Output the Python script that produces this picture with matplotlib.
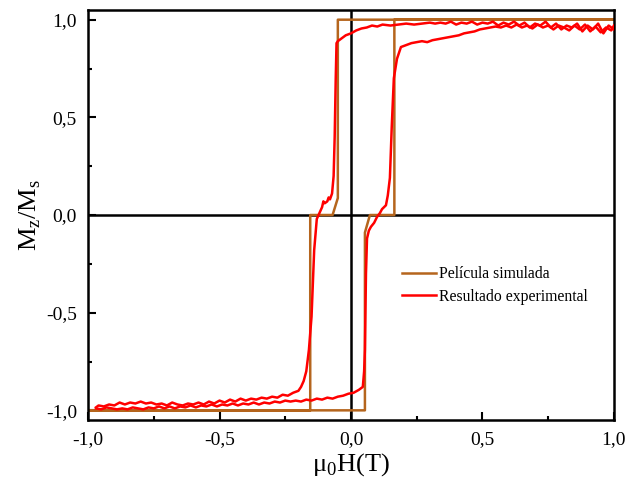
import numpy as np
import matplotlib.pyplot as plt
from matplotlib.ticker import MultipleLocator

plt.rcParams['font.family'] = ['Liberation Serif', 'DejaVu Serif']
plt.rcParams['mathtext.fontset'] = 'custom'
plt.rcParams['mathtext.rm'] = 'Liberation Serif'

# simulated film (square loop with small steps)
sim_x = [1.0, -0.05, -0.05, -0.07, -0.155, -0.155, -1.0,
         -1.0, 0.053, 0.053, 0.072, 0.165, 0.165, 1.0]
sim_y = [1.0, 1.0, 0.087, 0.0, 0.0, -1.0, -1.0,
         -1.0, -1.0, -0.09, 0.0, 0.0, 1.0, 1.0]

# experimental, descending branch (+H -> -H)
exp_dn_x = [1.00, 0.98, 0.96, 0.94, 0.92, 0.90, 0.88, 0.86, 0.84, 0.82, 0.80,
            0.78, 0.76, 0.74, 0.72, 0.70, 0.68, 0.66, 0.64, 0.62, 0.60, 0.58,
            0.56, 0.54, 0.52, 0.50, 0.48, 0.46, 0.44, 0.42, 0.40, 0.38, 0.36,
            0.34, 0.32, 0.30,
            0.27, 0.24, 0.21, 0.18, 0.15, 0.12, 0.10, 0.08, 0.06, 0.04, 0.02,
            0.00, -0.02, -0.04, -0.05, -0.055,
            -0.058, -0.062, -0.066, -0.072, -0.08, -0.085, -0.09, -0.10, -0.105,
            -0.11, -0.12, -0.13, -0.14, -0.15, -0.16, -0.17, -0.18, -0.19, -0.20,
            -0.22, -0.24, -0.26, -0.28, -0.30, -0.32, -0.34, -0.36, -0.38, -0.40,
            -0.42, -0.44, -0.46, -0.48, -0.50, -0.52, -0.54, -0.56, -0.58, -0.60,
            -0.62, -0.64, -0.66, -0.68, -0.70, -0.72, -0.74, -0.76, -0.78, -0.80,
            -0.82, -0.84, -0.86, -0.88, -0.90, -0.92, -0.94, -0.96, -0.97]
exp_dn_y = [0.95, 0.97, 0.93, 0.98, 0.95, 0.97, 0.94, 0.98, 0.96, 0.97, 0.95,
            0.98, 0.96, 0.99, 0.97, 0.98, 0.96, 0.985, 0.97, 0.99, 0.975, 0.985,
            0.97, 0.99, 0.98, 0.985, 0.975, 0.99, 0.98, 0.985, 0.975, 0.99, 0.98,
            0.985, 0.98, 0.985,
            0.98, 0.975, 0.98, 0.975, 0.97, 0.975, 0.965, 0.97, 0.96, 0.955, 0.945,
            0.93, 0.92, 0.90, 0.89, 0.88,
            0.70, 0.40, 0.20, 0.11, 0.08, 0.09, 0.07, 0.06, 0.07,
            0.04, 0.01, -0.02, -0.18, -0.52, -0.69, -0.80, -0.85, -0.88, -0.90,
            -0.91, -0.925, -0.92, -0.935, -0.93, -0.94, -0.935, -0.945, -0.94, -0.95,
            -0.94, -0.955, -0.945, -0.96, -0.95, -0.965, -0.955, -0.97, -0.96, -0.97,
            -0.965, -0.975, -0.97, -0.96, -0.975, -0.965, -0.97, -0.96, -0.965, -0.955,
            -0.965, -0.96, -0.97, -0.96, -0.975, -0.97, -0.98, -0.975, -0.985]

# experimental, ascending branch (-H -> +H)
exp_up_x = [-0.97, -0.95, -0.93, -0.91, -0.89, -0.87, -0.85, -0.83, -0.81, -0.79,
            -0.77, -0.75, -0.73, -0.71, -0.69, -0.67, -0.65, -0.63, -0.61, -0.59,
            -0.57, -0.55, -0.53, -0.51, -0.49, -0.47, -0.45, -0.43, -0.41, -0.39,
            -0.37, -0.35, -0.33, -0.31, -0.29, -0.27, -0.25, -0.23, -0.21, -0.19,
            -0.17, -0.15, -0.13, -0.11, -0.09, -0.07, -0.05, -0.03, -0.01, 0.01,
            0.03, 0.045, 0.05, 0.053, 0.057, 0.061, 0.068, 0.076, 0.088, 0.099,
            0.11, 0.118, 0.133, 0.14, 0.148, 0.155, 0.163, 0.175, 0.19, 0.23,
            0.25, 0.27, 0.29, 0.31, 0.33, 0.35, 0.37, 0.39, 0.41, 0.43, 0.45,
            0.47, 0.49, 0.51, 0.53, 0.55, 0.57, 0.59, 0.61, 0.63, 0.65, 0.67,
            0.69, 0.71, 0.73, 0.75, 0.77, 0.79, 0.81, 0.83, 0.85, 0.87, 0.89,
            0.91, 0.93, 0.95, 0.97, 0.99, 1.00]
exp_up_y = [-0.99, -0.995, -0.985, -0.99, -0.995, -0.99, -0.995, -0.985, -0.99, -0.995,
            -0.985, -0.99, -0.98, -0.99, -0.98, -0.99, -0.98, -0.985, -0.975, -0.985,
            -0.975, -0.98, -0.97, -0.98, -0.97, -0.975, -0.965, -0.975, -0.965, -0.97,
            -0.96, -0.97, -0.96, -0.965, -0.955, -0.96, -0.95, -0.955, -0.95, -0.955,
            -0.945, -0.95, -0.94, -0.945, -0.935, -0.94, -0.93, -0.925, -0.915, -0.91,
            -0.895, -0.88, -0.80, -0.69, -0.30, -0.12, -0.08, -0.06, -0.04, -0.01,
            0.01, 0.03, 0.05, 0.10, 0.19, 0.45, 0.70, 0.80, 0.86, 0.88,
            0.885, 0.89, 0.885, 0.895, 0.90, 0.905, 0.91, 0.915, 0.92, 0.93, 0.935,
            0.94, 0.95, 0.955, 0.96, 0.965, 0.96, 0.97, 0.96, 0.975, 0.96, 0.97,
            0.955, 0.975, 0.96, 0.97, 0.95, 0.97, 0.96, 0.945, 0.97, 0.95, 0.975,
            0.94, 0.965, 0.935, 0.96, 0.945, 0.97]

xticks = [-1.0, -0.5, 0.0, 0.5, 1.0]
xtick_labels = ['-1,0', '-0,5', '0,0', '0,5', '1,0']
yticks = [-1.0, -0.5, 0.0, 0.5, 1.0]
ytick_labels = ['-1,0', '-0,5', '0,0', '0,5', '1,0']

brown = '#b5651d'
red = '#ff0000'

fig = plt.figure(figsize=(6.29, 4.96), dpi=100)
ax = fig.add_axes([0.140, 0.153, 0.836, 0.827])

ax.axhline(0, color='black', lw=1.8, zorder=1)
ax.axvline(0, color='black', lw=1.8, zorder=1)

ax.plot(sim_x, sim_y, color=brown, lw=1.8, zorder=2, label='Película simulada')
ax.plot(exp_dn_x, exp_dn_y, color=red, lw=1.8, zorder=3, label='Resultado experimental')
ax.plot(exp_up_x, exp_up_y, color=red, lw=1.8, zorder=3)

ax.set_xlim(-1.0, 1.0)
ax.set_ylim(-1.05, 1.05)
ax.set_xticks(xticks)
ax.set_xticklabels(xtick_labels)
ax.set_yticks(yticks)
ax.set_yticklabels(ytick_labels)
ax.xaxis.set_minor_locator(MultipleLocator(0.25))
ax.yaxis.set_minor_locator(MultipleLocator(0.25))
ax.tick_params(which='both', direction='in', labelsize=14, width=1.5)
ax.tick_params(which='major', length=6, pad=8)
ax.tick_params(which='minor', length=3)
for s in ax.spines.values():
    s.set_linewidth(1.8)

ax.set_xlabel('μ$_\\mathregular{0}$H(T)', fontsize=19, labelpad=2)
ax.set_ylabel('M$_\\mathregular{z}$/M$_\\mathregular{s}$', fontsize=19, labelpad=2)

ax.legend(loc='upper left', bbox_to_anchor=(0.585, 0.39), frameon=False,
          fontsize=11.3, handlelength=2.2, handletextpad=0.15, labelspacing=0.4,
          borderaxespad=0)

fig.savefig('out.png', dpi=100)
